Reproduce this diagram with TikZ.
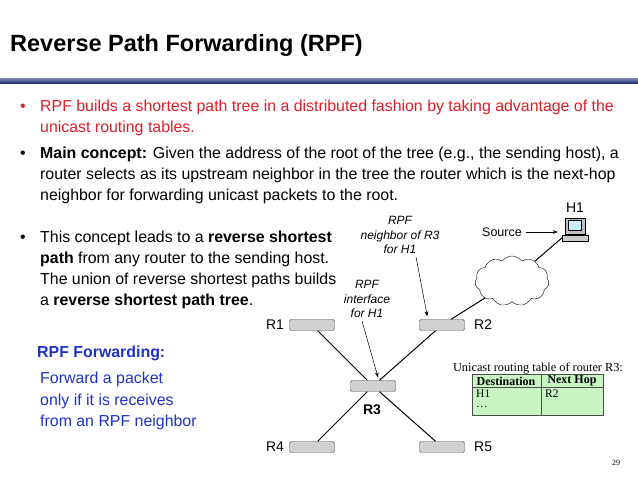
\documentclass[tikz,border=0pt]{standalone}
\usepackage{fontspec}
\setmainfont{Liberation Sans}
\newfontfamily\serif{Liberation Serif}
\usetikzlibrary{shapes.symbols,arrows.meta,calc}
\definecolor{rred}{RGB}{220,30,40}
\definecolor{rblue}{RGB}{30,50,200}
\definecolor{navy}{RGB}{20,30,110}
\definecolor{tgreen}{RGB}{200,245,195}
\begin{document}
\begin{tikzpicture}[x=1pt,y=-1pt,
  txt/.style={anchor=base west,inner sep=0pt,font=\fontsize{15.9}{17}\selectfont},
  lab/.style={align=center,inner sep=0pt,font=\fontsize{12}{14.5}\selectfont\itshape},
  rlab/.style={inner sep=0pt,font=\fontsize{14}{15}\selectfont},
  router/.style={draw=black!70,fill=black!18,minimum width=45pt,minimum height=11pt,inner sep=0pt,rounded corners=1.5pt},
  link/.style={line width=1pt},
  point/.style={-{Stealth[length=5pt]},line width=0.5pt}]
\useasboundingbox (0,0) rectangle (638,478);
\node[anchor=base west,inner sep=0pt,font=\fontsize{23.5}{26}\selectfont\bfseries] (title) at (10,52) {Reverse Path Forwarding (RPF)};
\shade[top color=navy!60,bottom color=navy] (0,79) rectangle (638,84);
\node[txt,text=rred] (b1) at (20,112) {\textbullet};
\node[txt,text=rred] (t1) at (40,112) {RPF builds a shortest path tree in a distributed fashion by taking advantage of the};
\node[txt,text=rred] (t1b) at (40,133) {unicast routing tables.};
\node[txt] (b2) at (20,159) {\textbullet};
\node[txt] (t2) at (40,159) {\textbf{Main concept:} Given the address of the root of the tree (e.g., the sending host), a};
\node[txt] (t2b) at (40,180) {router selects as its upstream neighbor in the tree the router which is the next-hop};
\node[txt] (t2c) at (40,201) {neighbor for forwarding unicast packets to the root.};
\node[txt] (b3) at (20,243) {\textbullet};
\node[txt] (t3) at (40,243) {This concept leads to a \textbf{reverse shortest}};
\node[txt] (t3b) at (40,264) {\textbf{path} from any router to the sending host.};
\node[txt] (t3c) at (40,285) {The union of reverse shortest paths builds};
\node[txt] (t3d) at (40,306) {a \textbf{reverse shortest path tree}.};
\node[txt,text=rblue,font=\fontsize{15.9}{17}\selectfont\bfseries] (f0) at (37,358) {RPF Forwarding:};
\node[txt,text=rblue] (f1) at (40,384) {Forward a packet};
\node[txt,text=rblue] (f2) at (40,406) {only if it is receives};
\node[txt,text=rblue] (f3) at (40,427) {from an RPF neighbor};
% network
\node[router] (R1) at (312,325) {};
\node[router] (R2) at (442,325) {};
\node[router] (R3) at (373,386) {};
\node[router] (R4) at (312,447) {};
\node[router] (R5) at (442,447) {};
\node[rlab] (l1) at (275,325) {R1};
\node[rlab,anchor=west] (l2) at (474,325) {R2};
\node[rlab,font=\fontsize{14}{15}\selectfont\bfseries] (l3) at (372,410) {R3};
\node[rlab] (l4) at (275,447) {R4};
\node[rlab,anchor=west] (l5) at (474,447) {R5};
\node[cloud,draw,fill=white,cloud puffs=11,cloud puff arc=110,aspect=1.4,minimum width=74pt,minimum height=50pt,inner sep=0pt] (cl) at (512,281) {};
% computer H1
\node[draw,fill=black!25,minimum width=20pt,minimum height=16pt,inner sep=0pt] (H1) at (575,226) {};
\node[draw,fill=white!80!cyan,minimum width=13pt,minimum height=10pt,inner sep=0pt] (scr) at (575,225) {};
\node[draw,fill=black!20,minimum width=26pt,minimum height=6pt,inner sep=0pt] (kb) at (575,238) {};
\node[rlab] (h1l) at (575,208) {H1};
\node[rlab,font=\fontsize{12.5}{14}\selectfont] (src) at (502,232) {Source};
\coordinate (sa) at ($(src.east)+(4,0)$);
\draw[point] (sa) -- ($(kb.west)+(-4,-6)$);
\draw[link] (R1) -- (R3) -- (R2);
\draw[link] (R4) -- (R3) -- (R5);
\draw[link] (R2) -- (cl);
\draw[link] (cl) -- (kb.west);
\node[lab] (nb) at (400,235) {RPF\\neighbor of R3\\for H1};
\node[lab] (ifc) at (367,299) {RPF\\interface\\for H1};
\coordinate (na) at ($(nb.south)+(16,3)$);
\coordinate (ia) at ($(ifc.south)+(-5,3)$);
\draw[point] (na) -- ($(R2.north west)+(8,-3)$);
\draw[point] (ia) -- ($(R3.north)+(5,-3)$);
% table
\node[inner sep=0pt,font=\serif\fontsize{12.3}{13}\selectfont] (tt) at (538,368) {Unicast routing table of router R3:};
\draw[fill=tgreen,draw=black!70] (472,374) rectangle (603,415);
\draw[draw=black!70] (472,387) -- (603,387) (541,374) -- (541,415);
\node[inner sep=0pt,font=\serif\fontsize{12}{13}\selectfont\bfseries] (d) at (506,381) {Destination};
\node[inner sep=0pt,font=\serif\fontsize{12}{13}\selectfont\bfseries] (nh) at (572,381) {Next Hop};
\node[anchor=west,inner sep=0pt,font=\serif\fontsize{11.5}{13}\selectfont] (hh) at (476,394) {H1};
\node[anchor=west,inner sep=0pt,font=\serif\fontsize{11.5}{13}\selectfont] (r2) at (545,394) {R2};
\node[anchor=west,inner sep=0pt,font=\serif\fontsize{11.5}{13}\selectfont] (dots) at (476,407) {\dots};
\node[inner sep=0pt,font=\serif\fontsize{8}{10}\selectfont] (pg) at (616,463) {29};
\end{tikzpicture}
\end{document}
